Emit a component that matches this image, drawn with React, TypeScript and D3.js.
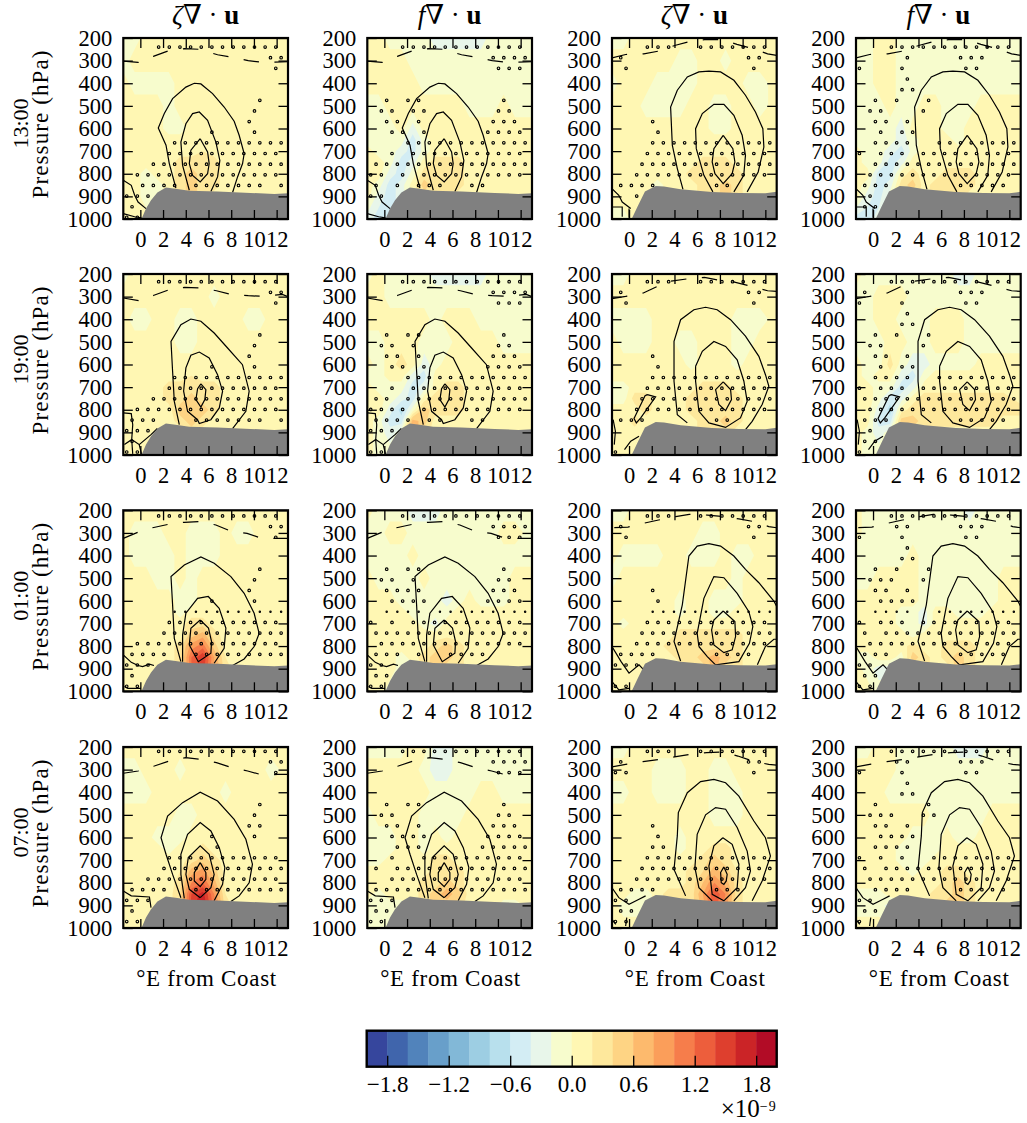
import React, { useEffect, useRef } from 'react';
import * as d3 from 'd3';

// grid of the shaded field, values in 1e-10 units
const fieldLon = [-1.5, -0.5, 0.5, 1.5, 2.5, 3.5, 4.5, 5.5, 6.5, 7.5, 8.5, 9.5, 10.5, 11.5, 13];
const fieldP = [200, 300, 400, 500, 600, 650, 700, 750, 800, 850, 900, 1000];

const fill_13_z = [
  [-1,-1,1,1,1,1,1,1,1,1,1,1,1,1,1],
  [-1,1,1,1,1,1,1,1,1,1,1,1,1,1,1],
  [1,-1,-1,-1,-1,1,1,1,1,1,1,1,1,1,1],
  [1,1,1,1,-1,1,1,1,1,1,1,1,1,1,1],
  [1,1,1,1,-1,-1,1,1,1,1,1,1,1,1,1],
  [1,1,1,1,1,1,1,1,1,1,1,1,1,1,1],
  [1,1,1,1,1,1,1,2,1,1,1,1,1,1,1],
  [1,1,1,1,1,3,3,3,3,1,1,1,1,1,1],
  [1,1,-1,1,1,3,5,3,3,1,1,1,1,1,1],
  [1,1,-1,-1,1,3,5,3,3,1,1,1,1,1,1],
  [1,1,-1,-1,1,3,5,3,1,1,1,1,1,1,1],
  [1,1,1,1,1,1,1,1,1,1,1,1,1,1,1],
];
const fill_13_f = [
  [1,1,-1,-1,-1,-1,-3,-3,-3,-3,-3,-1,-1,-1,-1],
  [1,1,1,1,-1,-1,-1,-1,-1,-1,-1,-1,-1,-1,-1],
  [1,1,1,1,1,-1,-1,-1,-1,-1,-1,-1,-1,-1,-1],
  [-1,-1,1,1,1,1,1,1,1,-1,-1,-1,1,-1,-1],
  [-1,-1,-1,1,-3,1,1,1,1,1,1,1,1,1,1],
  [-1,-1,-1,-1,-5,-1,1,1,1,1,1,1,1,1,1],
  [1,-1,-1,-3,-5,-1,1,1,1,1,1,1,1,1,1],
  [1,1,-1,-5,-3,1,3,3,3,1,1,1,1,1,1],
  [1,1,-3,-5,-1,3,3,3,3,1,1,1,1,1,1],
  [1,-1,-5,-3,1,5,3,3,3,1,1,1,1,1,1],
  [1,-3,-5,-3,1,3,3,3,1,1,1,1,1,1,1],
  [-3,-5,-5,-3,-1,1,1,1,1,1,1,1,1,1,1],
];
const fill_13_z2 = [
  [-1,-1,1,1,1,1,1,1,1,1,1,1,1,1,1],
  [1,1,1,1,1,1,-1,-1,1,1,-1,1,1,1,1],
  [-1,1,1,1,-1,-1,-1,-1,1,1,1,1,-1,-1,1],
  [1,1,1,-1,-1,-1,-1,1,1,-1,-1,1,1,-1,1],
  [1,1,1,1,1,1,1,1,1,-1,-1,1,1,1,1],
  [1,1,1,1,1,1,1,1,1,1,1,1,1,1,1],
  [1,1,1,1,1,1,1,1,1,1,1,1,1,1,1],
  [1,1,1,1,1,1,1,1,3,3,3,1,1,1,1],
  [1,1,1,1,1,1,1,3,3,3,3,3,1,1,1],
  [1,1,1,1,-1,1,1,1,3,3,5,3,1,1,1],
  [1,1,1,1,-1,1,1,1,3,3,5,3,1,1,1],
  [-1,-1,1,1,1,1,1,1,1,1,1,1,1,1,1],
];
const fill_13_f2 = [
  [-1,-1,1,1,-1,-1,-1,-1,-1,-1,-1,-1,-1,-1,-1],
  [-1,-1,1,1,-1,-1,-1,-1,-1,-1,-1,-1,-1,-1,-1],
  [-1,-1,1,1,-1,-1,-1,-1,-1,-1,-1,-1,-1,-1,-1],
  [-1,-1,-1,1,-1,-1,1,1,-1,-1,-1,1,1,1,1],
  [-1,-1,-1,-1,-3,1,1,1,-1,-1,1,1,1,1,1],
  [-1,-1,-1,-1,-3,-1,1,1,1,-1,1,1,1,1,1],
  [1,-1,-1,-3,-5,-1,1,1,1,1,1,1,1,1,1],
  [1,-1,-1,-5,-3,1,1,1,1,1,1,1,1,1,1],
  [1,1,-5,-5,1,3,1,1,3,3,3,1,1,1,1],
  [1,-1,-5,-3,3,5,1,3,3,3,3,1,1,1,1],
  [1,-3,-5,-1,3,3,1,3,3,3,1,1,1,1,1],
  [-5,-5,-3,-1,1,1,1,1,1,1,1,1,1,1,1],
];
const fill_19_z = [
  [-1,1,1,1,1,1,1,1,1,1,1,1,1,1,1],
  [1,1,1,1,1,1,1,1,-1,1,1,1,1,1,1],
  [1,-1,-1,1,1,-1,-1,1,1,1,1,-1,-1,1,1],
  [1,1,1,1,1,-1,-1,1,1,1,1,1,1,1,1],
  [1,1,1,1,1,1,1,1,1,1,1,1,1,1,1],
  [1,1,1,1,1,1,2,1,1,1,1,1,1,1,1],
  [1,1,1,1,3,3,3,3,3,1,1,1,1,1,1],
  [1,1,1,1,3,3,5,3,3,1,1,1,1,1,1],
  [1,1,1,1,1,5,6,5,3,1,1,1,1,1,1],
  [1,1,1,1,1,3,5,3,1,1,1,1,1,1,1],
  [1,1,1,1,1,1,3,1,1,1,1,1,1,1,1],
  [1,1,1,1,1,1,1,1,1,1,1,1,1,1,1],
];
const fill_19_f = [
  [-1,1,-1,-1,-1,-1,-3,-3,-3,-3,-3,-1,-1,-1,-1],
  [1,1,-1,-1,-1,-1,-1,-1,-1,-1,-1,-1,-1,-1,-1],
  [1,1,1,1,1,1,-1,1,1,1,-1,-1,-1,-1,-1],
  [-1,-1,1,1,1,-1,-1,-1,1,1,1,1,-1,-1,-1],
  [1,-1,1,3,1,-3,-1,1,1,1,1,1,1,1,1],
  [-1,-1,1,1,-3,-5,1,1,1,1,1,1,1,1,1],
  [1,-1,-1,-1,-5,-3,1,3,3,1,1,1,1,1,1],
  [1,1,-1,-3,-5,1,3,3,3,1,1,1,1,1,1],
  [1,1,-3,-7,-1,5,3,3,3,1,1,1,1,1,1],
  [1,-1,-5,-5,7,5,1,1,1,1,1,1,1,1,1],
  [1,-1,-3,-1,9,3,1,1,1,1,1,1,1,1,1],
  [1,-1,-1,-1,1,1,1,1,1,1,1,1,1,1,1],
];
const fill_19_z2 = [
  [-1,-1,1,1,1,1,1,1,1,1,1,1,1,1,1],
  [1,1,1,1,1,1,1,1,1,1,1,1,1,1,1],
  [-1,-1,-1,-1,1,1,1,1,1,1,1,-1,-1,-1,1],
  [1,-1,-1,-1,1,1,-1,-1,1,1,1,-1,-1,1,1],
  [1,1,1,1,1,1,1,-1,1,1,1,-1,1,1,1],
  [1,1,1,1,1,1,1,1,1,1,1,1,1,1,1],
  [-1,-1,1,1,1,1,1,1,3,3,3,1,1,1,1],
  [-1,-1,3,3,1,1,1,3,3,3,3,3,1,1,1],
  [1,1,1,3,1,1,1,3,3,3,3,3,1,1,1],
  [1,1,3,1,1,1,1,1,3,3,5,3,1,1,1],
  [1,1,1,1,1,1,1,1,3,3,3,1,1,1,1],
  [1,1,1,1,1,1,1,1,1,1,1,1,1,1,1],
];
const fill_19_f2 = [
  [1,-1,-1,-1,-1,-1,-1,-1,-1,-3,-3,-1,-1,-1,-1],
  [-1,-1,1,1,1,-1,-1,-1,-1,-1,-1,-1,-1,-1,-1],
  [-1,-1,1,1,-1,-1,-1,1,1,1,-1,-1,-1,-1,-1],
  [-1,-1,-1,1,1,-1,-1,1,1,1,-1,-1,-1,-1,-1],
  [1,-1,-1,3,-1,-3,-3,-1,-1,-1,-1,1,1,1,1],
  [1,-1,1,1,-3,-5,-1,1,1,1,1,1,1,1,1],
  [1,1,-1,-1,-5,-3,1,1,1,1,1,1,1,1,1],
  [1,1,-1,-5,-3,1,3,3,3,3,3,3,3,3,1],
  [1,1,-3,-7,1,3,3,3,3,3,3,3,3,3,3],
  [1,1,-5,-5,5,5,3,3,3,3,3,3,3,1,1],
  [1,-1,-3,-1,3,3,1,1,1,1,1,1,1,1,1],
  [1,-1,-1,-1,1,1,1,1,1,1,1,1,1,1,1],
];
const fill_01_z = [
  [1,1,1,1,1,1,1,1,1,1,1,1,1,1,1],
  [1,-1,-1,-1,1,1,-1,-1,-1,1,-1,-1,1,1,1],
  [1,-1,-1,-1,-1,1,-1,-1,-1,1,1,1,1,1,1],
  [1,1,1,-1,-1,1,-1,1,1,1,1,1,1,1,1],
  [1,1,1,1,1,-1,-1,1,1,1,1,1,1,1,1],
  [1,1,1,1,1,-1,1,1,1,1,1,1,1,1,1],
  [1,1,1,1,1,1,3,3,1,1,1,1,1,1,1],
  [1,1,1,1,1,1,5,7,3,1,1,1,1,1,1],
  [1,1,1,1,1,3,9,11,5,1,1,1,1,1,1],
  [1,1,1,1,1,3,12,16,8,2,1,1,1,1,1],
  [1,1,1,1,1,3,12,15,8,3,1,1,1,1,1],
  [1,1,1,1,1,3,9,12,6,1,1,1,1,1,1],
];
const fill_01_f = [
  [1,-1,-1,-1,-3,-3,-3,-1,-1,-1,-1,-1,-1,-1,-1],
  [-1,-1,1,1,-1,-1,-1,-1,-1,-1,-1,-1,1,1,-1],
  [-1,-1,-1,-1,1,-1,-1,-1,-1,-1,-1,-1,-1,-1,-1],
  [1,-1,-1,-1,-1,1,-1,-1,-1,-1,-1,-1,-1,1,1],
  [1,1,1,-1,-1,-1,-1,-3,-1,1,-1,-1,-1,1,1],
  [1,1,1,1,-1,-1,-1,-1,1,1,1,1,1,1,1],
  [1,1,1,1,1,-1,-3,1,1,1,1,1,1,1,1],
  [1,1,1,1,1,1,1,1,1,1,1,1,1,1,1],
  [1,1,1,1,1,1,3,5,3,1,1,1,1,1,1],
  [1,1,1,-1,1,3,5,5,3,1,1,1,1,1,1],
  [1,1,1,-1,-1,3,5,3,3,1,1,1,1,1,1],
  [1,1,-1,-1,1,1,1,1,1,1,1,1,1,1,1],
];
const fill_01_z2 = [
  [-1,-1,1,1,1,1,1,1,1,1,1,1,1,1,1],
  [1,1,1,1,1,1,1,1,-1,-1,1,1,1,1,1],
  [1,-1,-1,-1,-1,1,1,-1,-1,-1,1,-1,-1,1,1],
  [-1,1,1,1,1,1,1,1,1,1,1,-1,1,1,1],
  [1,1,1,1,1,1,-1,1,1,-1,-1,-1,1,1,1],
  [1,1,1,1,1,1,-1,1,1,-1,-1,1,1,1,1],
  [1,-1,1,1,1,1,1,1,1,1,1,1,1,1,1],
  [1,1,1,1,1,1,3,3,3,3,3,3,1,1,1],
  [1,1,1,1,1,3,3,3,3,3,3,3,1,1,1],
  [1,1,1,1,1,1,3,3,5,7,5,3,1,1,1],
  [1,1,1,1,1,1,1,3,3,7,3,3,1,1,1],
  [1,1,1,1,1,1,1,1,1,1,1,1,1,1,1],
];
const fill_01_f2 = [
  [1,-1,-1,-1,-1,-1,-1,-1,-1,-1,-3,-1,-1,-1,-1],
  [1,-1,-1,-1,-1,-1,-1,-1,-1,-1,-1,-1,-1,-1,-1],
  [-1,-1,-1,-1,-1,1,-1,-1,-1,-1,-1,-1,-1,-1,-1],
  [-1,-1,1,1,1,1,-1,-1,-1,-1,-1,-1,-1,1,1],
  [1,1,1,1,1,1,-1,-1,-1,-1,-1,-1,-1,1,1],
  [1,1,1,1,-1,-1,-3,1,1,-1,-1,-1,1,1,1],
  [1,1,1,1,-1,-1,-3,1,1,1,1,1,1,1,1],
  [1,1,1,1,1,-1,1,1,1,1,1,1,1,1,1],
  [1,1,1,1,1,3,1,1,3,3,3,1,1,1,1],
  [-1,-1,1,1,-1,5,3,1,3,5,3,1,1,1,1],
  [1,-1,-3,-3,-1,3,3,1,1,5,3,1,1,1,1],
  [1,1,-1,-1,1,1,1,1,1,1,1,1,1,1,1],
];
const fill_07_z = [
  [1,1,1,1,1,1,1,1,1,1,1,1,1,1,1],
  [-1,-1,1,1,1,-1,1,1,1,1,1,1,1,-1,1],
  [-1,-1,-1,1,1,1,1,1,1,-1,1,1,1,1,1],
  [1,1,1,1,1,-1,-1,1,1,1,1,1,1,1,1],
  [1,1,1,-1,-1,-1,1,1,1,1,1,1,1,1,1],
  [1,1,1,1,-1,1,1,3,1,1,1,1,1,1,1],
  [1,1,1,1,1,1,3,5,3,1,1,1,1,1,1],
  [1,1,1,1,1,2,7,9,5,1,1,1,1,1,1],
  [1,1,1,1,1,3,10,12,7,1,1,1,1,1,1],
  [1,1,1,1,1,4,14,17,10,2,1,1,1,1,1],
  [1,1,1,1,1,4,15,18,11,3,1,1,1,1,1],
  [1,1,1,1,1,4,14,17,10,3,1,1,1,1,1],
];
const fill_07_f = [
  [-1,-1,-1,-1,1,1,-3,-3,-1,-1,-1,-1,-1,-1,-1],
  [1,1,1,1,1,-1,-3,-3,-1,-1,-1,-1,-1,-1,-1],
  [1,1,1,1,1,1,-1,-1,-1,-1,1,1,-1,-1,-1],
  [-1,1,1,1,1,-1,-1,-1,-1,1,1,1,1,1,1],
  [-1,-1,-1,1,1,-1,1,-1,1,1,1,1,1,1,1],
  [-1,-1,-1,1,1,-1,1,1,1,1,1,1,1,1,1],
  [-1,-1,1,1,1,1,3,3,1,1,1,1,1,1,1],
  [1,1,1,1,1,1,3,3,3,1,1,1,1,1,1],
  [1,1,1,1,1,3,3,5,3,1,1,1,1,1,1],
  [1,-1,1,1,1,3,5,7,5,1,1,1,1,1,1],
  [-1,-1,-1,-1,1,3,5,5,3,1,1,1,-1,-1,1],
  [-1,-1,-1,-1,1,1,1,1,1,1,1,1,1,1,1],
];
const fill_07_z2 = [
  [-1,-1,1,1,1,1,1,1,1,1,1,1,1,1,1],
  [1,1,1,1,-1,-1,-1,1,1,-1,-1,1,1,1,1],
  [-1,-1,1,1,-1,-1,-1,1,1,-1,-1,-1,1,1,1],
  [1,1,1,1,1,1,1,1,1,-1,-1,-1,1,1,1],
  [1,1,1,1,1,1,-1,1,1,1,1,1,1,1,1],
  [1,1,1,1,1,1,-1,1,1,3,3,1,1,1,1],
  [1,1,1,1,1,1,1,1,3,5,3,1,1,1,1],
  [1,1,1,1,1,1,1,3,4,7,5,2,1,1,1],
  [1,1,1,1,1,1,1,3,6,10,7,3,1,1,1],
  [1,1,-1,-1,1,3,3,3,8,14,10,3,1,1,1],
  [1,-1,-1,-1,1,3,3,3,7,13,9,3,1,1,1],
  [1,1,1,1,1,1,1,1,1,1,1,1,1,1,1],
];
const fill_07_f2 = [
  [-1,-1,1,1,-1,-1,-1,-1,-1,-3,-3,-3,-1,-1,-1],
  [1,1,1,1,-1,-1,-1,-1,-1,-1,-1,-1,-1,-1,-1],
  [1,1,1,-1,-1,-1,-1,-1,-1,-1,-1,-1,-1,-1,-1],
  [1,1,1,1,1,1,1,-1,-1,-1,-1,-1,1,1,1],
  [1,1,1,1,1,-1,-1,-1,1,-1,-1,1,1,1,1],
  [1,1,1,1,-1,-1,-1,-1,1,1,1,1,1,1,1],
  [1,1,1,1,-1,-1,-1,1,1,1,1,1,1,1,1],
  [1,1,1,1,1,-1,1,1,3,3,1,1,1,1,1],
  [1,1,1,1,1,1,1,1,3,5,3,1,1,1,1],
  [-1,-1,-1,1,1,1,1,3,3,5,3,1,1,1,1],
  [-1,-1,-1,-3,-1,1,1,3,5,5,3,1,1,1,1],
  [1,1,1,1,1,1,1,1,1,1,1,1,1,1,1],
];

// stippled points: kept column numbers for every row of the significance grid
const dots_13_z = ["3-14","13-14","14","","","12","12","11","8,12","4-14","4-14","2-14","1-14","1-4,6-12,14","0-2","0","0-1"];
const dots_13_f = ["3-14","11-14","12-14","","","1,3,4,12","1,2,4,5,12,13","1,2,4,11-13","2,3,5,11-14","3-14","2,4-14","0-14","0,1,3,5-14","0,2,4-6,9,10","0,1","",""];
const dots_13_z2 = ["3-5,8-14","0,12,13","1,13","","","","","3","4","3-14","3-14","2-14","2-14","0-3,9,10","2","",""];
const dots_13_f2 = ["3-14","4,9-11","0,4,10,11","4","4,5","1,3,6","1,2,6","1,2,4","2,4,5","1-4,7-14","0,2-4,6-14","1-14","1-14","0-2,9-13","1","0,1",""];
const dots_19_z = ["3-14","13,14","14","","","12","12","11","8,12","4-14","4-14","2-14","1-14","0-2,6-12,14","0-2","0","0,1"];
const dots_19_f = ["3-14","11-14","12-14","","","1,3,4,12","1,2,4,12,13","1,2,4,11-13","2,3,5,11-14","3-14","2,4-14","0,1,3-14","0-3,5-14","0-3,5,6,9,10","0-2","","0,1"];
const dots_19_z2 = ["3-5,8-14","0,12,13","1,13","","","","","3","4","3-14","3-14","2-14","2-14","0-2,9,10","","","0"];
const dots_19_f2 = ["3-14","0,4,9-11","0,4,10,11","4","4,5","1,3,6","1,2,6","1,2,4","2,4,5","1-4,7-14","0,2-4,6-14","0-14","1-14","0-2,9-13","1","0,1","0"];
const dots_01_z = ["3-14","13,14","14","","","12","12","11","8,12","4-14","4-14","3-14","1-14","0-3,6-14","0-2","0","0,1"];
const dots_01_f = ["3-14","11-14","12-14","","","1,3,4,12","1,2,4,12,13","1-4,11-13","2-5,11-14","1-4,6-14","0,2,4-14","0-14","1-14","0-2,4,7-10","0,1","0,1","0,1"];
const dots_01_z2 = ["3-5,8-14","0,12,13","1,13","","","","","3","4","3-14","3-14","2-14","2-14","0-3,9-12","0-2","","0,1"];
const dots_01_f2 = ["3-14","3,4,9-11","0,4,10,11","4","4,5","1,3,6","1-3,6","1,2,4","2-5","1-4,7-14","0,2-4,6-14","0,2-14","1-14","0-2,9-13","0,1","0,1","0,1"];
const dots_07_z = ["3-14","13,14","14","","","12","12","11,12","8,12","8","4-14","3-14","2-14","0-3,6-14","0-2","0","0,1"];
const dots_07_f = ["3-14","11-14","12-14","","","1,3,4,12","1,2,12,13","1,2,4,11-13","2-5,11-14","2-4,10-14","2,5-14","0,2-14","2-14","0-14","0-2","0,1","0,1"];
const dots_07_z2 = ["3-5,8-14","0,12,13","0,1,13","","","","","3","4","3,4","3-14","2-14","2-14","0-3,9-11","0,1","0,1","0,1"];
const dots_07_f2 = ["3-14","3,4,9-11","0,4,10,11","4","4,5","1,6","1-3,6,7","1,2,4","2-5","1-4","0,2,4,7-14","0,2-14","1-14","1-4,9-13","0,1","0,1","0"];

// solid isolines as flat lon, hPa lists
const lines_13_west = [
  [3.13,863,2.55,755,2.26,674,1.58,598,2.11,534,2.84,468,4.01,417,4.75,400,5.33,403,6.36,446,7.38,505,8.26,568,8.7,630,9.14,711,9,755,8.56,814,8.12,883],
  [4.31,873,3.72,763,3.57,660,4.01,579,4.6,534,5.19,527,5.92,564,6.65,660,7,741,6.8,814,6.21,878],
  [5.27,645,5.92,704,6.06,755,5.92,800,5.27,836,4.6,807,4.31,755,4.45,696,5.27,645],
  [-1.5,829,-0.8,851,-0.5,895,-0.2,925,0.5,954],
  [-1.5,976,-0.5,990,0.1,995],
];
const dash_13_west = [-1.5,302,-0.2,308,1.2,280,2.55,255,3.9,247,5.2,250,6.8,274,8,284,9.5,300,10.8,308,13,305];
const lines_13_east = [
  [4.75,869,4.25,777,3.81,674,3.66,505,4.25,431,5.13,372,6.15,350,7.03,346,8.06,350,9.23,387,10.25,453,11.13,527,11.78,601,11.87,682,11.37,792,10.4,880],
  [7.38,880,6.59,807,5.92,689,5.86,601,6.45,534,7.47,493,8.35,493,9.23,542,9.96,630,10.25,718,10.1,807,9.23,880],
  [8.29,630,9.14,689,9.32,748,9.08,800,8.29,844,7.56,800,7.32,748,7.47,689,8.29,630],
  [-1.5,866,-0.9,895,-0.6,925,0.15,954],
  [-1.5,947,-0.6,947,-0.6,990],
  [0,954,0,995],
];
const dash_13_east = [-1.5,288,-0.3,273,1.3,270,2.6,258,4.1,232,5.4,215,6.8,206,8.2,207,9.5,228,10.8,246,12.2,270,13,277];
const lines_19_west = [
  [3.43,866,2.99,763,2.84,630,2.7,498,3.57,424,4.45,399,5.33,409,6.5,461,7.68,527,8.99,601,9.58,718,9.29,807,8.12,883],
  [5.04,844,4.16,807,3.81,718,4.01,615,4.45,559,5.19,545,6.06,571,6.8,645,7.24,718,6.95,792,6.21,844,5.19,861,5.04,844],
  [5.33,686,5.77,711,5.68,755,5.33,788,4.89,755,5.04,707,5.33,686],
  [-1.5,814,-0.8,817,-0.67,866,-0.76,932,-1.4,954],
  [-0.76,932,-0.1,954,0.1,995],
  [-0.1,954,0.94,910,1.5,883],
  [-0.76,932,-0.67,995],
];
const dash_19_west = [-1.5,306,-0.1,318,1.2,294,2.55,269,3.9,259,5.3,262,6.7,274,8.05,291,9.5,296,10.9,299,12.5,290,13,300];
const lines_19_east = [
  [5.13,858,4.25,822,3.96,674,3.96,498,4.54,402,5.71,358,6.74,347,7.76,358,8.94,402,10.25,475,11.43,564,12.01,645,12.31,696,11.72,777,10.84,851,10.25,888],
  [5.86,608,6.45,542,7.47,498,8.5,520,9.52,579,10.11,674,10.4,763,9.81,836,8.5,878,7.03,858,6.15,807,5.86,674,5.86,608],
  [8.29,677,8.94,711,9.02,755,8.5,804,7.91,777,7.62,711,8.29,677],
  [1.61,733,2.34,743,1.03,836,0.64,858,0.44,839,1.41,738,1.61,733],
  [-1.4,844,-1.2,895,-1.3,954],
  [-0.4,976,0.15,939,0.88,917],
];
const dash_19_east = [-1.5,309,-0.3,299,1.26,284,2.5,255,3.66,232,5.2,221,6.65,215,8.06,229,9.2,235,10.7,254,12.2,274,13,277];
const lines_01_west = [
  [3.57,869,2.99,766,2.84,618,2.7,493,3.87,442,5.33,406,6.5,434,7.97,493,9.14,567,10.02,655,10.46,744,10.02,802,9.14,857,8.12,886],
  [3.72,869,3.72,751,4.01,655,5.04,589,5.98,581,6.94,633,7.53,721,7.38,810,6.5,876],
  [5.27,685,6,721,6.27,780,6.21,832,5.1,869,4.31,795,4.45,721,5.27,685],
  [-1.5,839,-0.8,872,-0.2,886,0.2,891,0.8,880,1.2,886],
  [-1.4,979,-1.1,987,0.06,987],
];
const dash_01_west = [-1.5,324,-0.2,297,1.08,277,2.46,262,3.87,253,5.27,250,6.65,265,7.9,291,9.4,302,10.7,324,12,324,13,324];
const lines_01_east = [
  [4.54,866,3.96,780,4.69,618,5.27,402,6,358,7.03,347,8.06,358,9.23,402,10.25,461,11.43,520,12.75,601,13,625],
  [13,770,12.75,770,12,802,11.3,883],
  [6.15,802,6,744,6.59,589,7.47,493,8.35,498,9.52,567,10.55,648,10.9,714,10.6,788,9.67,869,7.62,883,6.89,847,6.15,802],
  [8.29,645,9.32,692,9.38,758,9.08,817,8.35,829,7.47,795,7.27,729,7.47,685,8.29,645],
  [-1.5,802,-0.7,869,0,920,0.88,883,1.3,905],
  [-1.5,957,-0.9,994,0,987],
];
const dash_01_east = [-1.3,277,-0.1,274,1.3,257,2.6,243,4.1,228,5.3,218,6.9,221,8.35,228,9.67,238,11,250,12.3,272,13,277];
const lines_07_west = [
  [3.57,866,2.84,763,2.26,674,1.82,601,2.4,505,3.72,446,5.27,400,6.8,439,8.26,520,9.29,608,9.87,718,9.58,800,8.7,858,7.97,883],
  [3.87,869,3.57,763,3.57,674,4.16,586,5.27,534,6.21,571,6.95,645,7.44,733,7.24,807,6.5,880],
  [5.27,866,4.31,829,4.01,763,4.22,689,5.27,637,6.06,674,6.5,763,6.21,822,5.27,866],
  [5.27,711,5.77,755,5.77,785,5.27,817,4.75,792,4.75,755,5.27,711],
  [-1.5,836,-0.8,858,0.8,863,0.94,910],
];
const dash_07_west = [-1.5,316,-0.2,306,1.23,284,2.55,262,4,247,5.27,254,6.7,269,8.03,291,9.45,306,10.75,324,12.1,321,13,321];
const lines_07_east = [
  [4.98,858,3.96,741,4.25,593,4.34,490,5.13,402,6.3,353,7.47,343,8.5,358,9.67,417,10.99,527,12.01,601,12.45,682,11.72,792,10.84,880],
  [7.32,880,6.15,822,5.8,733,6,586,6.74,500,7.62,468,8.5,475,9.52,556,10.4,660,10.69,748,10.25,822,9.23,880],
  [8.26,601,9.08,630,9.67,718,9.52,822,8.35,880,7.32,851,7.03,726,7.47,637,8.26,601],
  [8.35,730,8.64,763,8.56,792,8.35,807,8.12,800,8.06,755,8.35,730],
  [-1.5,822,-0.9,866,0,895,0.88,873,1.46,858],
  [-1.5,962,-1.17,984],
  [-0.3,991,-0.2,954],
];
const dash_07_east = [-1.5,288,-0.3,277,1.23,265,2.64,255,4,244,5.4,232,6.83,225,8.2,222,9.58,240,10.9,262,12.3,277,13,280];

// terrain
const ground_west = [0.1,1000,0.5,954,0.94,917,1.5,883,2.25,861,3.1,866,4.3,875,6.8,878,9.7,885,11.8,889,13,886];
const ground_east = [0.23,1000,0.73,947,1.4,878,2.35,854,3.08,856,4.54,869,7.3,881,9.7,885,12,886,13,880];

const times = ["13:00", "19:00", "01:00", "07:00"];
const firstDotP = [240, 234, 225, 219];
const thinDotRow = [-1, -1, 9, -1];
const xTicks = [0, 2, 4, 6, 8, 10, 12];
const yTicks = [200, 300, 400, 500, 600, 700, 800, 900, 1000];
const cbarTicks = [-1.8, -1.2, -0.6, 0.0, 0.6, 1.2, 1.8];
const rdylbu = ["#313695","#4575b4","#74add1","#abd9e9","#e0f3f8","#ffffbf","#fee090","#fdae61","#f46d43","#d73027","#a50026"];

const fills = [
  [fill_13_z, fill_13_f, fill_13_z2, fill_13_f2],
  [fill_19_z, fill_19_f, fill_19_z2, fill_19_f2],
  [fill_01_z, fill_01_f, fill_01_z2, fill_01_f2],
  [fill_07_z, fill_07_f, fill_07_z2, fill_07_f2],
];
const dots = [
  [dots_13_z, dots_13_f, dots_13_z2, dots_13_f2],
  [dots_19_z, dots_19_f, dots_19_z2, dots_19_f2],
  [dots_01_z, dots_01_f, dots_01_z2, dots_01_f2],
  [dots_07_z, dots_07_f, dots_07_z2, dots_07_f2],
];
const lines = [[lines_13_west, lines_13_east], [lines_19_west, lines_19_east], [lines_01_west, lines_01_east], [lines_07_west, lines_07_east]];
const dashes = [[dash_13_west, dash_13_east], [dash_19_west, dash_19_east], [dash_01_west, dash_01_east], [dash_07_west, dash_07_east]];

const columnLeft = [123.3, 367.3, 612, 856];
const rowTop = [38, 274, 510.3, 747];
const panelW = 164.7;
const panelH = 181;
const serif = '"Liberation Serif", "DejaVu Serif", serif';

function pairs(flat: number[]) {
  return d3.range(0, flat.length, 2).map(i => [flat[i], flat[i + 1]]);
}

function parseCols(s: string) {
  var out: number[] = [];
  if (!s) return out;
  s.split(',').forEach(part => {
    var ends = part.split('-').map(Number);
    d3.range(ends[0], (ends[1] === undefined ? ends[0] : ends[1]) + 1).forEach(k => out.push(k));
  });
  return out;
}

const bandColor = d3.scaleLinear<string>().domain(d3.range(11).map(i => i / 10)).range(rdylbu);
const bandAt = (i: number) => bandColor((i + 0.5) / 20);

function drawPanel(root: any, r: number, c: number) {
  var x = d3.scaleLinear().domain([-1.5, 13]).range([0, panelW]);
  var y = d3.scaleLinear().domain([200, 1000]).range([0, panelH]);
  var g = root.append('g').attr('transform', `translate(${columnLeft[c]},${rowTop[r]})`);
  var clipId = `clip_${r}_${c}`;
  g.append('clipPath').attr('id', clipId).append('rect').attr('width', panelW).attr('height', panelH);
  var body = g.append('g').attr('clip-path', `url(#${clipId})`);

  // shaded bands, painted from low to high
  var thresholds = d3.range(-20, 20, 2);
  var gridX = d3.scaleLinear().domain(fieldLon.map((_, i) => i + 0.5)).range(fieldLon).clamp(true);
  var gridY = d3.scaleLinear().domain(fieldP.map((_, i) => i + 0.5)).range(fieldP).clamp(true);
  var path = d3.geoPath(d3.geoTransform({
    point(px: number, py: number) { (this as any).stream.point(x(gridX(px)), y(gridY(py))); }
  }));
  var values = fills[r][c].flat();
  var cont = d3.contours().size([fieldLon.length, fieldP.length]).thresholds(thresholds)(values);
  body.selectAll('.band').data(cont).join('path')
    .attr('class', 'band')
    .attr('d', (d: any) => path(d))
    .attr('fill', (_: any, i: number) => bandAt(i));

  // stippling
  var dotData: any[] = [];
  dots[r][c].forEach((row, i) => {
    parseCols(row).forEach(k => {
      dotData.push({
        lon: (i % 2 === 0 ? -1.2 : -0.73) + 0.9375 * k,
        p: firstDotP[r] + 47.05 * i,
        thin: i === thinDotRow[r],
      });
    });
  });
  body.selectAll('.dot').data(dotData).join('circle')
    .attr('class', 'dot')
    .attr('cx', (d: any) => x(d.lon))
    .attr('cy', (d: any) => y(d.p))
    .attr('r', (d: any) => d.thin ? 0.7 : 1.3)
    .attr('fill', 'none')
    .attr('stroke', 'black')
    .attr('stroke-width', 1.1);

  // isolines
  var line = d3.line().x((d: any) => x(d[0])).y((d: any) => y(d[1]));
  var side = c < 2 ? 0 : 1;
  body.selectAll('.iso').data(lines[r][side]).join('path')
    .attr('class', 'iso')
    .attr('d', (d: any) => line(pairs(d) as any))
    .attr('fill', 'none')
    .attr('stroke', 'black')
    .attr('stroke-width', 1.2);
  body.append('path')
    .attr('d', line(pairs(dashes[r][side]) as any))
    .attr('fill', 'none')
    .attr('stroke', 'black')
    .attr('stroke-width', 1.2)
    .attr('stroke-dasharray', '15.5 15.5');

  // ticks on all four sides, labels left and bottom only
  var label = (sel: any) => sel.selectAll('text').attr('font-family', serif).attr('font-size', 22.5).attr('fill', 'black');
  var tidy = (sel: any) => { sel.select('.domain').remove(); sel.selectAll('line').attr('stroke-width', 1.3).attr('stroke', 'black'); };
  g.append('g').call(d3.axisLeft(y).tickValues(yTicks).tickSize(-9.5).tickPadding(11).tickFormat(d3.format('d') as any)).call(tidy).call(label);
  g.append('g').attr('transform', `translate(${panelW},0)`)
    .call(d3.axisRight(y).tickValues(yTicks).tickSize(-9.5).tickFormat(() => '')).call(tidy);
  g.append('g').attr('transform', `translate(0,${panelH})`)
    .call(d3.axisBottom(x).tickValues(xTicks).tickSize(-9).tickPadding(12)).call(tidy).call(label);
  g.append('g').call(d3.axisTop(x).tickValues(xTicks).tickSize(-10).tickFormat(() => '')).call(tidy);

  // terrain goes over ticks and stipples
  body.append('path')
    .attr('d', d3.area().x((d: any) => x(d[0])).y0(panelH + 2).y1((d: any) => y(d[1]))(pairs(side ? ground_east : ground_west) as any))
    .attr('fill', '#808080');

  g.append('rect').attr('width', panelW).attr('height', panelH)
    .attr('fill', 'none').attr('stroke', 'black').attr('stroke-width', 2.2);

  // titles and labels
  if (r === 0) {
    var title = g.append('text').attr('x', panelW / 2).attr('y', -14)
      .attr('text-anchor', 'middle').attr('font-family', serif).attr('font-size', 27).attr('fill', 'black');
    title.append('tspan').attr('font-style', 'italic').text(c % 2 === 0 ? 'ζ' : 'f');
    title.append('tspan').text('∇ · ');
    title.append('tspan').attr('font-weight', 'bold').text('u');
  }
  if (c === 0) {
    g.append('text').attr('transform', `translate(${-95},${panelH / 2 - 5}) rotate(-90)`)
      .attr('text-anchor', 'middle').attr('font-family', serif).attr('font-size', 22).attr('fill', 'black').text(times[r]);
    g.append('text').attr('transform', `translate(${-75},${panelH / 2 - 4}) rotate(-90)`)
      .attr('text-anchor', 'middle').attr('font-family', serif).attr('font-size', 23)
      .attr('textLength', 148).attr('fill', 'black').text('Pressure (hPa)');
  }
  if (r === 3) {
    g.append('text').attr('x', panelW / 2 + 0.5).attr('y', panelH + 58)
      .attr('text-anchor', 'middle').attr('font-family', serif).attr('font-size', 23)
      .attr('textLength', 140).attr('fill', 'black').text('°E from Coast');
  }
}

function drawColorbar(root: any) {
  var left = 366.7, width = 410, top = 1030.7, height = 36;
  var x = d3.scaleLinear().domain([-2, 2]).range([0, width]);
  var g = root.append('g').attr('transform', `translate(${left},${top})`);
  g.selectAll('.seg').data(d3.range(20)).join('rect')
    .attr('class', 'seg')
    .attr('x', (i: number) => x(-2 + i * 0.2))
    .attr('width', width / 20 + 0.5)
    .attr('height', height)
    .attr('fill', (i: number) => bandAt(i));
  var ax = d3.axisBottom(x).tickValues(cbarTicks).tickSize(-11).tickPadding(9)
    .tickFormat((d: any) => (d < 0 ? '−' : '') + d3.format('.1f')(Math.abs(d)));
  var axis = g.append('g').attr('transform', `translate(0,${height})`).call(ax);
  axis.select('.domain').remove();
  axis.selectAll('line').attr('stroke', 'black').attr('stroke-width', 1.3);
  axis.selectAll('text').attr('font-family', serif).attr('font-size', 23).attr('fill', 'black');
  g.append('rect').attr('width', width).attr('height', height)
    .attr('fill', 'none').attr('stroke', 'black').attr('stroke-width', 2.4);
  var exp = g.append('text').attr('x', width).attr('y', 86.5).attr('text-anchor', 'end')
    .attr('font-family', serif).attr('font-size', 25).attr('fill', 'black');
  exp.append('tspan').text('×10');
  exp.append('tspan').attr('dy', -6).attr('font-size', 14).attr('letter-spacing', 1).text('−9');
}

export default function App() {
  const ref = useRef<SVGSVGElement>(null);

  useEffect(() => {
    var svg = d3.select(ref.current);
    svg.selectAll('*').remove();
    times.forEach((_, r) => {
      d3.range(4).forEach(c => drawPanel(svg, r, c));
    });
    drawColorbar(svg);
  }, []);

  return (
    <svg
      ref={ref}
      width={1027}
      height={1123}
      style={{ position: 'absolute', left: 0, top: 0, background: 'white' }}
    />
  );
}
